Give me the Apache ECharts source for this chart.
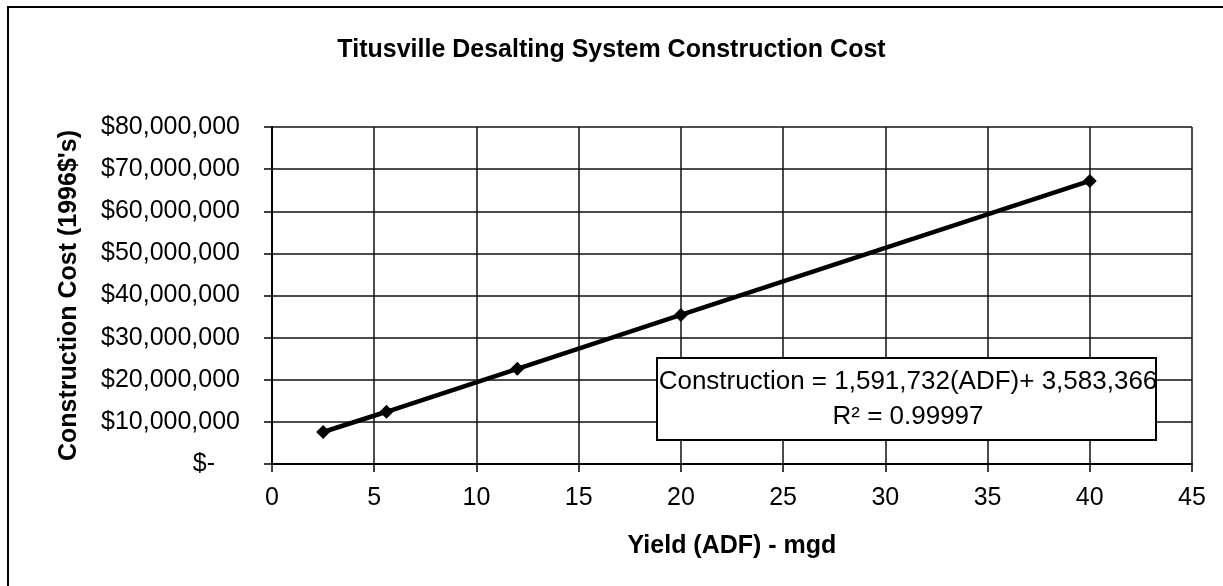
<!DOCTYPE html>
<html>
<head>
<meta charset="utf-8">
<script src="https://cdn.jsdelivr.net/npm/echarts@6/dist/echarts.min.js"></script>
<style>
  html, body { margin: 0; padding: 0; background: #fff; }
  #chart { width: 1223px; height: 586px; }
</style>
</head>
<body>
<div id="chart"></div>
<script>
// data
var yieldMgd = [2.5, 5.6, 12, 20, 40];
var costUsd = [7600000, 12400000, 22600000, 35400000, 67200000];
var fitLines = ['Construction = 1,591,732(ADF)+ 3,583,366', 'R\u00B2 = 0.99997'];

var font = '"Liberation Sans", Arial, sans-serif';

function money (v) {
  if (v === 0) return '{z|$-}';
  return '$' + String(v).replace(/\B(?=(\d{3})+(?!\d))/g, ',');
}

var myChart = echarts.init(document.getElementById('chart'));
var points = yieldMgd.map(function (x, i) { return [x, costUsd[i]]; });

var option = {
  backgroundColor: '#fff',
  animation: false,
  title: {
    text: 'Titusville Desalting System Construction Cost',
    left: 'center',
    top: 38,
    padding: 0,
    textStyle: { color: '#000', fontFamily: font, fontWeight: 'bold', fontSize: 25 }
  },
  grid: { left: 272, right: 31, top: 127, bottom: 122 },
  xAxis: {
    type: 'value',
    min: 0,
    max: 45,
    interval: 5,
    name: 'Yield (ADF) - mgd',
    nameLocation: 'middle',
    nameGap: 70,
    nameTextStyle: { color: '#000', fontFamily: font, fontWeight: 'bold', fontSize: 25 },
    axisLine: { show: true, onZero: false, lineStyle: { color: '#000', width: 2 } },
    axisTick: { show: true, length: 8, lineStyle: { color: '#000', width: 1.5 } },
    axisLabel: { color: '#000', fontFamily: font, fontSize: 25, margin: 22 },
    splitLine: { show: true, lineStyle: { color: '#111', width: 1.5 } }
  },
  yAxis: {
    type: 'value',
    min: 0,
    max: 80000000,
    interval: 10000000,
    name: 'Construction Cost (1996$\'s)',
    nameLocation: 'middle',
    nameGap: 190,
    nameTextStyle: { color: '#000', fontFamily: font, fontWeight: 'bold', fontSize: 25 },
    axisLine: { show: true, lineStyle: { color: '#000', width: 2 } },
    axisTick: { show: true, length: 8, lineStyle: { color: '#000', width: 1.5 } },
    axisLabel: {
      color: '#000', fontFamily: font, fontSize: 25, margin: 32,
      formatter: money,
      rich: { z: { color: '#000', fontFamily: font, fontSize: 25, padding: [0, 25, 0, 0] } }
    },
    splitLine: { show: true, lineStyle: { color: '#111', width: 1.5 } }
  },
  series: [
    {
      type: 'line',
      data: points,
      symbol: 'diamond',
      symbolSize: 14,
      lineStyle: { color: '#000', width: 4.5 },
      itemStyle: { color: '#000' },
      z: 3
    }
  ],
  graphic: [
    {
      // outer frame
      type: 'rect',
      silent: true,
      shape: { x: 8, y: 7, width: 1400, height: 800 },
      style: { fill: null, stroke: '#000', lineWidth: 2 },
      z: 100
    },
    {
      // trendline equation box
      type: 'rect',
      silent: true,
      shape: { x: 657, y: 358, width: 499, height: 82 },
      style: { fill: '#fff', stroke: '#000', lineWidth: 2 },
      z: 100
    },
    {
      type: 'text',
      silent: true,
      x: 908,
      y: 399,
      z: 101,
      style: {
        text: fitLines.join('\n'),
        align: 'center',
        verticalAlign: 'middle',
        fill: '#000',
        font: '26px ' + font,
        lineHeight: 35
      }
    }
  ]
};

option && myChart.setOption(option);
</script>
</body>
</html>
